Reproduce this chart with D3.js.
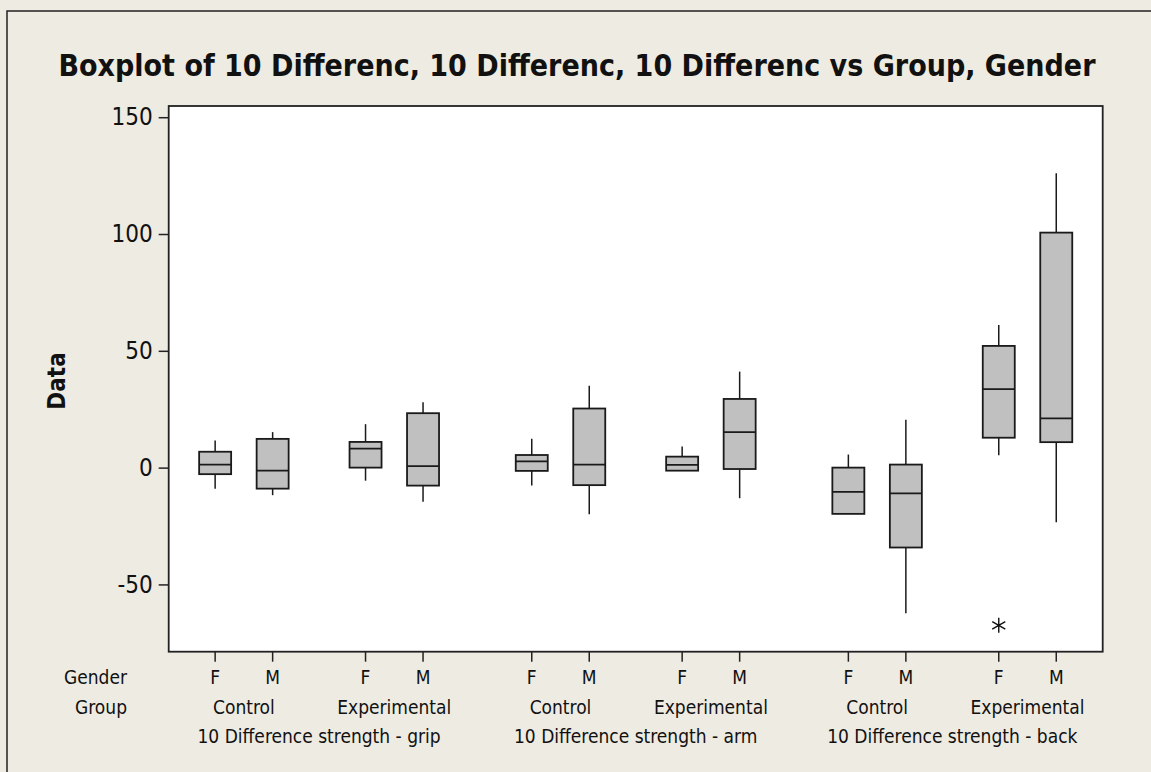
<!DOCTYPE html>
<html>
<head>
<meta charset="utf-8">
<script src="https://cdn.jsdelivr.net/npm/d3@7"></script>
<style>
  body { margin: 0; background: #eeebe2; }
  text { font-family: "DejaVu Sans Condensed", "DejaVu Sans", sans-serif; fill: #111; }
</style>
</head>
<body>
<div class="chart"></div>
<script>
// data
var variables = ["10 Difference strength - grip", "10 Difference strength - arm", "10 Difference strength - back"];
var groups = ["Control", "Experimental"];
var genders = ["F", "M"];

// one entry per box, order: variable > group > gender
var whiskerLow  = [-9.0, -11.8, -5.6, -14.6,  -7.7, -20.0, -1.3, -13.1, -19.8, -62.3,  5.3, -23.4];
var q1          = [-2.8,  -9.0,  0.0,  -7.7,  -1.4,  -7.5, -1.3,  -0.6, -19.8, -34.2, 12.8,  10.9];
var median      = [ 1.3,  -1.3,  8.1,   0.6,   2.7,   1.3,  1.2,  15.2, -10.4, -11.0, 33.6,  21.1];
var q3          = [ 6.8,  12.3, 11.0,  23.3,   5.4,  25.3,  4.7,  29.4,   0.0,   1.3, 52.1, 100.6];
var whiskerHigh = [11.6,  15.2, 18.6,  28.0,  12.4,  35.0,  9.0,  41.1,   5.6,  20.5, 61.0, 126.0];

var outliers = [{box: 10, value: -67.5}];

var yTicks = [150, 100, 50, 0, -50];

var boxes = [];
variables.forEach(function (v) {
    groups.forEach(function (g) {
        genders.forEach(function (s) {
            boxes.push({variable: v, group: g, gender: s});
        });
    });
});
boxes.forEach(function (b, i) {
    b.lo = whiskerLow[i]; b.q1 = q1[i]; b.med = median[i]; b.q3 = q3[i]; b.hi = whiskerHigh[i];
});

var width = 1151, height = 772;
var svg = d3.select(".chart").append("svg").attr("width", width).attr("height", height);

// outer frame
svg.append("rect").attr("x", 7).attr("y", 11).attr("width", 1200).attr("height", 800)
    .attr("fill", "#eeebe2").attr("stroke", "#222").attr("stroke-width", 1.5);

var L = 168.7, R = 1102.7, T = 106, B = 651.7;

var y = d3.scaleLinear().domain([-78.8, 154.8]).range([B, T]);
var xVar = d3.scalePoint().domain(variables).range([L, R]).padding(0.475);
var xGroup = d3.scalePoint().domain(groups).range([-75.2, 75.2]);
var xGender = d3.scalePoint().domain(genders).range([-28.75, 28.75]);

function xPos(d) { return xVar(d.variable) + xGroup(d.group) + xGender(d.gender); }

svg.append("rect").attr("x", L).attr("y", T).attr("width", R - L).attr("height", B - T)
    .attr("fill", "#fff").attr("stroke", "#222").attr("stroke-width", 1.8);

// title
svg.append("text").attr("x", 577).attr("y", 76).attr("text-anchor", "middle")
    .style("font-size", "30px").style("font-weight", "bold")
    .text("Boxplot of 10 Differenc, 10 Differenc, 10 Differenc vs Group, Gender");

// y axis
var yAxis = svg.append("g").attr("transform", "translate(" + L + ",0)")
    .call(d3.axisLeft(y).tickValues(yTicks).tickSize(10).tickPadding(6).tickFormat(function (d) { return String(d); }));
yAxis.select(".domain").remove();
yAxis.selectAll(".tick line").attr("stroke", "#222").attr("stroke-width", 1.5);
yAxis.selectAll(".tick text").attr("fill", "#111").style("font-size", "24px")
    .style("font-family", "'DejaVu Sans Condensed', 'DejaVu Sans', sans-serif");

svg.append("text").attr("transform", "translate(65,381) rotate(-90)").attr("text-anchor", "middle")
    .style("font-size", "24px").style("font-weight", "bold").text("Data");

// x ticks + labels
var bx = svg.append("g");
bx.selectAll("line.xt").data(boxes).enter().append("line")
    .attr("x1", xPos).attr("x2", xPos).attr("y1", B).attr("y2", B + 10)
    .attr("stroke", "#222").attr("stroke-width", 1.5);
bx.selectAll("text.g").data(boxes).enter().append("text")
    .attr("x", xPos).attr("y", 684).attr("text-anchor", "middle").style("font-size", "19px")
    .text(function (d) { return d.gender; });

var groupCells = [];
variables.forEach(function (v) { groups.forEach(function (g) { groupCells.push({variable: v, group: g}); }); });
bx.selectAll("text.gr").data(groupCells).enter().append("text")
    .attr("x", function (d) { return xVar(d.variable) + xGroup(d.group); })
    .attr("y", 714).attr("text-anchor", "middle").style("font-size", "19px")
    .text(function (d) { return d.group; });
bx.selectAll("text.v").data(variables).enter().append("text")
    .attr("x", function (d) { return xVar(d); })
    .attr("y", 743).attr("text-anchor", "middle").style("font-size", "19px")
    .text(function (d) { return d; });
bx.append("text").attr("x", 127).attr("y", 684).attr("text-anchor", "end").style("font-size", "19px").text("Gender");
bx.append("text").attr("x", 127).attr("y", 714).attr("text-anchor", "end").style("font-size", "19px").text("Group");

// boxes
var bw = 32;
var g = svg.append("g").attr("stroke", "#1a1a1a");
var bg = g.selectAll("g.box").data(boxes).enter().append("g");
bg.append("line").attr("x1", xPos).attr("x2", xPos)
    .attr("y1", function (d) { return y(d.hi); }).attr("y2", function (d) { return y(d.lo); })
    .attr("stroke-width", 1.5);
bg.append("rect").attr("x", function (d) { return xPos(d) - bw / 2; }).attr("width", bw)
    .attr("y", function (d) { return y(d.q3); })
    .attr("height", function (d) { return y(d.q1) - y(d.q3); })
    .attr("fill", "#c0c0c0").attr("stroke-width", 1.8);
bg.append("line").attr("x1", function (d) { return xPos(d) - bw / 2; }).attr("x2", function (d) { return xPos(d) + bw / 2; })
    .attr("y1", function (d) { return y(d.med); }).attr("y2", function (d) { return y(d.med); })
    .attr("stroke-width", 1.8);

// outliers
svg.selectAll("path.out").data(outliers).enter().append("path")
    .attr("d", d3.symbol().type(d3.symbolAsterisk).size(160))
    .attr("transform", function (d) { return "translate(" + xPos(boxes[d.box]) + "," + y(d.value) + ")"; })
    .attr("fill", "none").attr("stroke", "#111").attr("stroke-width", 1.4);
</script>
</body>
</html>
